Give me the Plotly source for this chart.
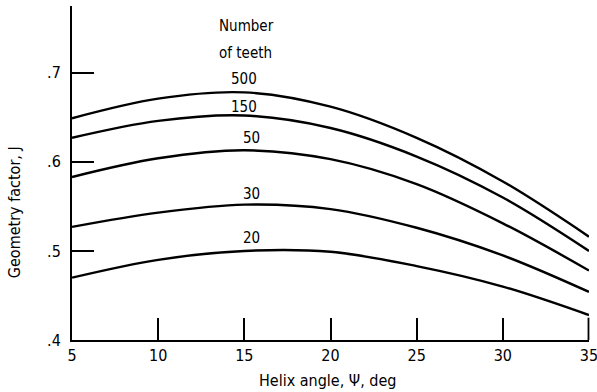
import plotly.graph_objects as go

# Helix angle (deg)
helix_angle = [5, 10, 15, 20, 25, 30, 35]

# Geometry factor J for each number of teeth
j_500 = [0.649, 0.671, 0.678, 0.662, 0.627, 0.578, 0.516]
j_150 = [0.627, 0.646, 0.652, 0.638, 0.606, 0.560, 0.500]
j_50 = [0.583, 0.604, 0.613, 0.603, 0.575, 0.531, 0.478]
j_30 = [0.527, 0.543, 0.552, 0.547, 0.526, 0.495, 0.454]
j_20 = [0.470, 0.490, 0.500, 0.499, 0.483, 0.460, 0.428]

teeth_labels = ["500", "150", "50", "30", "20"]
series = [j_500, j_150, j_50, j_30, j_20]
label_pos = [(14.96, 0.693), (15.0, 0.662), (15.4, 0.627), (15.4, 0.564), (15.4, 0.515)]

x_ticks = [5, 10, 15, 20, 25, 30, 35]
y_ticks = [0.4, 0.5, 0.6, 0.7]
y_ticktext = [".4", ".5", ".6", ".7"]

FONT = "DejaVu Sans Condensed, Liberation Sans Narrow, Liberation Sans, Arial, sans-serif"

fig = go.Figure()
for name, ys in zip(teeth_labels, series):
    fig.add_trace(go.Scatter(
        x=helix_angle, y=ys, mode="lines", name=name,
        line=dict(color="black", width=2.4, shape="spline", smoothing=1.0),
        showlegend=False, hoverinfo="skip", cliponaxis=False))

annotations = []
for name, (ax, ay) in zip(teeth_labels, label_pos):
    annotations.append(dict(x=ax, y=ay, xref="x", yref="y", text=name,
                            showarrow=False, font=dict(family=FONT, size=15, color="black")))
annotations.append(dict(x=13.45, y=0.752, xref="x", yref="y", text="Number",
                        xanchor="left", showarrow=False, borderpad=0,
                        font=dict(family=FONT, size=15, color="black")))
annotations.append(dict(x=13.45, y=0.722, xref="x", yref="y", text="of teeth",
                        xanchor="left", showarrow=False, borderpad=0,
                        font=dict(family=FONT, size=15, color="black")))
# axis titles
annotations.append(dict(x=0.495, y=-0.12, xref="paper", yref="paper",
                        text="Helix angle, Ψ, deg", showarrow=False,
                        xanchor="center", yanchor="middle",
                        font=dict(family=FONT, size=16, color="black")))
annotations.append(dict(x=-0.112, y=0.383, xref="paper", yref="paper",
                        text="Geometry factor, J", showarrow=False, textangle=-90,
                        xanchor="center", yanchor="middle",
                        font=dict(family=FONT, size=16, color="black")))

# Plotly drops inside ticks at the very end of the range; redraw the end-of-axis
# tick mark (x = 35, the right end of the axis) as an unclipped paper-x shape
shapes = [dict(type="line", xref="paper", yref="y", x0=0.999, x1=0.999,
               y0=y_ticks[0], y1=y_ticks[0] + 0.025, layer="above",
               line=dict(color="black", width=1.8))]

fig.update_layout(
    width=597, height=392,
    margin=dict(l=72, r=8, t=6, b=52, autoexpand=False),
    paper_bgcolor="white", plot_bgcolor="white",
    font=dict(family=FONT, size=16, color="black"),
    annotations=annotations,
    shapes=shapes,
)
fig.update_xaxes(
    range=[4.999, 35.001], tickvals=x_ticks, ticks="inside", ticklen=22, tickwidth=1.8,
    tickcolor="black", showline=True, linecolor="black", linewidth=2,
    showgrid=False, zeroline=False, mirror=False, automargin=False,
    tickfont=dict(family=FONT, size=16), ticklabelstandoff=0,
    ticklabeloverflow="allow",
)
fig.update_yaxes(
    range=[0.4, 0.775], tickvals=y_ticks, ticktext=y_ticktext, ticks="inside",
    ticklen=22, tickwidth=1.8, tickcolor="black", showline=True, linecolor="black",
    linewidth=2, showgrid=False, zeroline=False, mirror=False, automargin=False,
    tickfont=dict(family=FONT, size=16), ticklabelstandoff=6,
    ticklabeloverflow="allow",
)

fig.write_html("out.html", config={"displayModeBar": False},
               post_script="document.body.style.margin='0';document.body.style.overflow='hidden';")
